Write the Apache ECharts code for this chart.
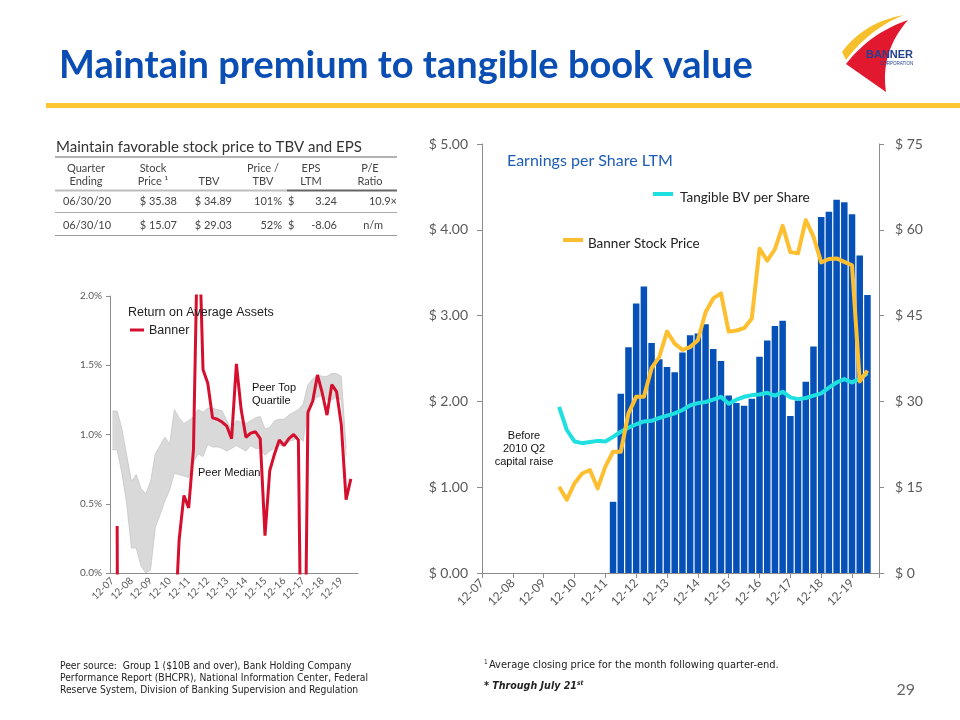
<!DOCTYPE html>
<html>
<head>
<meta charset="utf-8">
<script src="https://cdn.jsdelivr.net/npm/echarts@6/dist/echarts.min.js"></script>
<style>
  html, body { margin: 0; padding: 0; background: #fff; }
  #main { width: 960px; height: 720px; }
</style>
</head>
<body>
<div id="main"></div>
<script>
// quarter ends, 12-07 .. 12-20
const quarters = ('12-07 3-08 6-08 9-08 12-08 3-09 6-09 9-09 12-09 3-10 6-10 9-10 12-10 ' +
  '3-11 6-11 9-11 12-11 3-12 6-12 9-12 12-12 3-13 6-13 9-13 12-13 3-14 6-14 9-14 12-14 ' +
  '3-15 6-15 9-15 12-15 3-16 6-16 9-16 12-16 3-17 6-17 9-17 12-17 3-18 6-18 9-18 12-18 ' +
  '3-19 6-19 9-19 12-19 3-20 6-20 9-20 12-20').split(' ')

// right chart: EPS LTM bars start at 3-12, lines start at 6-10
const epsStart = '3-12'
const epsLtm = [0.83, 2.09, 2.63, 3.14, 3.34, 2.68, 2.49, 2.40, 2.34, 2.57, 2.77, 2.79, 2.90, 2.61, 2.47,
  2.07, 1.98, 1.95, 2.03, 2.52, 2.71, 2.88, 2.94, 1.83, 2.01, 2.23, 2.64, 4.15, 4.21, 4.35, 4.32, 4.18, 3.70, 3.24]
const lineStart = '6-10'
const tbvPerShare = [29.03, 25.0, 23.0, 22.7, 22.9, 23.1, 23.0, 23.8, 24.7, 25.4, 26.0, 26.5, 26.6, 27.1, 27.5,
  27.9, 28.5, 29.3, 29.7, 29.9, 30.3, 30.8, 29.6, 30.3, 30.8, 31.1, 31.2, 31.5, 31.0, 31.7, 30.7, 30.4, 30.6,
  31.0, 31.4, 32.4, 33.3, 33.9, 33.3, 34.0, 34.89]
const stockPrice = [15.07, 12.8, 15.7, 17.4, 18.0, 14.8, 18.6, 21.2, 21.2, 27.9, 30.8, 30.8, 35.8, 37.8, 42.2,
  40.1, 39.0, 39.5, 40.7, 45.6, 48.0, 48.9, 42.2, 42.4, 42.8, 44.5, 56.7, 54.6, 56.6, 60.7, 56.1, 55.9, 61.7,
  58.8, 54.3, 54.9, 55.0, 54.4, 53.8, 33.5, 35.38]

// left chart: return on average assets (%), from 12-07
const roaaQuarters = quarters.slice(0, 52)
const bannerRoaa = [null, 0.34, -9.0, -0.3, -2.4, -0.4, -0.6, -1.9, -1.1, -0.7, -2.6, -0.5, -2.7, -0.47,
  0.24, 0.56, 0.47, 0.89, 2.7, 1.47, 1.37, 1.12, 1.11, 1.09, 1.06, 0.97, 1.51, 1.18, 0.98, 1.01, 1.02, 0.97,
  0.27, 0.74, 0.86, 0.96, 0.92, 0.97, 1.00, 0.96, -2.0, 1.16, 1.24, 1.43, 1.30, 1.14, 1.36, 1.31, 1.07, 0.53, 0.68]
const peerTopQuartile = [1.17, 1.17, 1.04, 0.85, 0.66, 0.71, 0.61, 0.57, 0.66, 0.86, 0.92, 0.98, 0.93, 1.18,
  1.12, 1.08, 1.10, 1.13, 1.18, 1.16, 1.19, 1.19, 1.18, 1.17, 1.10, 1.03, 1.10, 1.09, 1.08, 1.10, 1.12, 1.13,
  1.04, 1.05, 1.10, 1.11, 1.11, 1.14, 1.16, 1.18, 1.22, 1.36, 1.40, 1.43, 1.42, 1.42, 1.44, 1.44, 1.42, 0.90]
const peerMedian = [0.89, 0.89, 0.72, 0.50, 0.18, 0.18, 0.05, 0.00, 0.02, 0.33, 0.42, 0.52, 0.60, 0.72, 0.71,
  0.70, 0.69, 0.80, 0.86, 0.84, 0.93, 0.91, 0.91, 0.90, 0.88, 0.90, 0.92, 0.90, 0.88, 0.92, 0.90, 0.90, 0.85,
  0.88, 0.90, 0.92, 0.92, 0.95, 0.96, 0.99, 0.95, 1.20, 1.24, 1.27, 1.28, 1.25, 1.25, 1.27, 1.25, 0.85]

// summary table
const tableHeader = [['Quarter', 'Ending'], ['Stock', 'Price ¹'], ['', 'TBV'], ['Price /', 'TBV'], ['EPS', 'LTM'], ['P/E', 'Ratio']]
const tableRows = [
  ['06/30/20', '$ 35.38', '$ 34.89', '101%', '3.24', '10.9×'],
  ['06/30/10', '$ 15.07', '$ 29.03', '52%', '-8.06', 'n/m']
]

const BLUE = '#0651b7'
const CYAN = '#1ee0e0'
const ORANGE = '#fdbf2f'
const RED = '#d5102f'
const AXIS = '#8c8c8c'
const LABEL = '#595959'

// pairs [quarter index, value] for the value-type x axis
const toPairs = (start, values) => {
  const s = quarters.indexOf(start)
  return values.map((v, i) => [s + i, v])
}

const bandTop = peerTopQuartile.map((v, i) => +(v - peerMedian[i]).toFixed(3))

// small helpers for the slide furniture
const txt = (x, y, text, font, fill, align, vAlign) => ({
  type: 'text', x: x, y: y, z: 50, silent: true,
  style: { text: text, font: font, fill: fill || '#333', textAlign: align || 'left', textVerticalAlign: vAlign || 'middle' }
})
const rule = (x1, y1, x2, y2, color, w) => ({
  type: 'line', z: 50, silent: true,
  shape: { x1: x1, y1: y1, x2: x2, y2: y2 }, style: { stroke: color, lineWidth: w }
})
const quad = (p0, c, p1) => {
  const pts = []
  for (let k = 0; k <= 16; k++) {
    const t = k / 16
    pts.push([(1 - t) * (1 - t) * p0[0] + 2 * (1 - t) * t * c[0] + t * t * p1[0],
      (1 - t) * (1 - t) * p0[1] + 2 * (1 - t) * t * c[1] + t * t * p1[1]])
  }
  return pts
}

const TF = 'Lato, "Open sans", sans-serif'
const graphics = []

// title + rule
graphics.push(txt(59, 66, 'Maintain premium to tangible book value', 'bold 38px ' + TF, '#0a4db3'))
graphics.push({ type: 'rect', z: 40, silent: true, shape: { x: 46, y: 103, width: 914, height: 5 }, style: { fill: '#fcc531' } })

// logo
graphics.push({ type: 'polygon', z: 41, silent: true,
  shape: { points: quad([842, 52], [864, 22], [904, 15]).concat(quad([904, 15], [869, 29], [846, 60])) },
  style: { fill: '#f6c02c' } })
graphics.push({ type: 'polygon', z: 42, silent: true,
  shape: { points: quad([908, 20], [870, 33], [846, 64]).concat([[886, 92]], quad([886, 92], [880, 52], [908, 20])) },
  style: { fill: '#e2182e' } })
graphics.push(txt(866, 55, 'BANNER', 'bold 11px "Liberation Sans", sans-serif', '#24408f'))
graphics.push(txt(880, 64, 'CORPORATION', '4.5px "Liberation Sans", sans-serif', '#24408f'))

// table
graphics.push(txt(56, 147, 'Maintain favorable stock price to TBV and EPS', '15px ' + TF, '#333'))
graphics.push(rule(55, 157, 397, 157, '#666', 1.2))
const colCenter = [86, 153, 209, 263, 311, 370]
tableHeader.forEach((h, c) => {
  graphics.push(txt(colCenter[c], 168, h[0], '11px ' + TF, '#444', 'center'))
  graphics.push(txt(colCenter[c], 181, h[1], '11px ' + TF, '#444', 'center'))
})
graphics.push(rule(55, 190.5, 287, 190.5, '#bdbdbd', 2))
graphics.push(rule(287, 190.5, 397, 190.5, '#666', 2))
tableRows.forEach((r, j) => {
  const y = 201 + j * 24
  graphics.push(txt(87, y, r[0], '11px ' + TF, '#444', 'center'))
  graphics.push(txt(177, y, r[1], '11px ' + TF, '#444', 'right'))
  graphics.push(txt(232, y, r[2], '11px ' + TF, '#444', 'right'))
  graphics.push(txt(282, y, r[3], '11px ' + TF, '#444', 'right'))
  graphics.push(txt(288, y, '$', '11px ' + TF, '#444', 'left'))
  graphics.push(txt(337, y, r[4], '11px ' + TF, '#444', 'right'))
  graphics.push(txt(r[5] === 'n/m' ? 383 : 397, y, r[5], '11px ' + TF, '#444', 'right'))
})
graphics.push(rule(55, 212.5, 397, 212.5, '#aaa', 1))
graphics.push(rule(55, 235.5, 397, 235.5, '#999', 1.2))

// left chart annotations
const CF = '"Liberation Sans", Arial, sans-serif'
graphics.push(txt(128, 313, 'Return on Average Assets', '12.5px ' + CF, '#222'))
graphics.push(rule(130, 330, 144, 330, RED, 3))
graphics.push(txt(149, 331, 'Banner', '12.5px ' + CF, '#222'))
graphics.push(txt(252, 388, 'Peer Top', '11px ' + CF, '#111'))
graphics.push(txt(252, 401, 'Quartile', '11px ' + CF, '#111'))
graphics.push(txt(198, 473, 'Peer Median', '11px ' + CF, '#111'))

// right chart annotations
graphics.push(txt(507, 161, 'Earnings per Share LTM', '16px ' + TF, '#1f5cb5'))
graphics.push(rule(653, 194, 673, 194, CYAN, 4))
graphics.push(txt(680, 198, 'Tangible BV per Share', '13.5px ' + TF, '#222'))
graphics.push(rule(563, 240, 583, 240, ORANGE, 4))
graphics.push(txt(588, 244, 'Banner Stock Price', '13.5px ' + TF, '#222'))
graphics.push(txt(524, 436, 'Before', '11px ' + CF, '#111', 'center'))
graphics.push(txt(524, 449, '2010 Q2', '11px ' + CF, '#111', 'center'))
graphics.push(txt(524, 462, 'capital raise', '11px ' + CF, '#111', 'center'))

// footer
const NF = '"Liberation Sans Narrow", "DejaVu Sans Condensed", sans-serif'
graphics.push(txt(60, 666, 'Peer source:  Group 1 ($10B and over), Bank Holding Company', '10.25px ' + NF, '#222'))
graphics.push(txt(60, 678, 'Performance Report (BHCPR), National Information Center, Federal', '10.25px ' + NF, '#222'))
graphics.push(txt(60, 690, 'Reserve System, Division of Banking Supervision and Regulation', '10.25px ' + NF, '#222'))
graphics.push(txt(484, 662, '1', '6.5px ' + NF, '#222'))
graphics.push(txt(489, 665, 'Average closing price for the month following quarter-end.', '11px ' + NF, '#222'))
graphics.push({
  type: 'text', x: 484, y: 686, z: 50, silent: true,
  style: {
    text: '{a|* Through July 21}{s|st}', textVerticalAlign: 'middle',
    rich: {
      a: { font: 'italic bold 10.6px ' + NF, fill: '#222' },
      s: { font: 'italic bold 6.5px ' + NF, fill: '#222', padding: [0, 0, 5, 0] }
    }
  }
})
graphics.push(txt(915, 690, '29', '16px ' + TF, '#666', 'right'))

const chart = echarts.init(document.getElementById('main'), null, { renderer: 'canvas' })

chart.setOption({
  backgroundColor: '#fff',
  animation: false,
  grid: [
    { left: 110, top: 296, width: 248, height: 277 },
    { left: 482, top: 144, width: 397, height: 429 }
  ],
  xAxis: [
    {
      type: 'category', gridIndex: 0, data: roaaQuarters, boundaryGap: true,
      axisLine: { lineStyle: { color: AXIS } },
      axisTick: { length: 4, interval: (i) => i % 4 === 0, lineStyle: { color: AXIS } },
      axisLabel: { interval: (i) => i % 4 === 0, rotate: 45, fontSize: 10, color: LABEL, margin: 6, fontFamily: TF }
    },
    {
      type: 'value', gridIndex: 1, min: 0, max: 51.5, interval: 4,
      splitLine: { show: false },
      axisLine: { lineStyle: { color: AXIS } },
      axisTick: { length: 5, lineStyle: { color: AXIS } },
      axisLabel: {
        rotate: 45, fontSize: 12, color: LABEL, margin: 8, fontFamily: TF,
        formatter: (v) => (v % 4 === 0 ? quarters[v] : '')
      }
    }
  ],
  yAxis: [
    {
      type: 'value', gridIndex: 0, min: 0, max: 2, interval: 0.5,
      splitLine: { show: false },
      axisLine: { show: true, lineStyle: { color: AXIS } },
      axisTick: { show: true, length: 4, lineStyle: { color: AXIS } },
      axisLabel: { fontSize: 10, color: LABEL, margin: 8, fontFamily: TF, formatter: (v) => v.toFixed(1) + '%' }
    },
    {
      type: 'value', gridIndex: 1, position: 'left', min: 0, max: 5, interval: 1,
      splitLine: { show: false },
      axisLine: { show: true, lineStyle: { color: AXIS } },
      axisTick: { show: true, length: 5, lineStyle: { color: AXIS } },
      axisLabel: { fontSize: 14, color: LABEL, margin: 14, fontFamily: TF, formatter: (v) => '$ ' + v.toFixed(2) }
    },
    {
      type: 'value', gridIndex: 1, position: 'right', min: 0, max: 75, interval: 15,
      splitLine: { show: false },
      axisLine: { show: true, lineStyle: { color: AXIS } },
      axisTick: { show: true, length: 5, lineStyle: { color: AXIS } },
      axisLabel: { fontSize: 14, color: LABEL, margin: 16, fontFamily: TF, formatter: (v) => '$ ' + v }
    }
  ],
  series: [
    {
      name: 'Peer Median', type: 'line', xAxisIndex: 0, yAxisIndex: 0, stack: 'band',
      data: peerMedian, symbol: 'none', lineStyle: { color: '#c6c6c6', width: 0.8 }, z: 1
    },
    {
      name: 'Peer Top Quartile', type: 'line', xAxisIndex: 0, yAxisIndex: 0, stack: 'band',
      data: bandTop, symbol: 'none', lineStyle: { color: '#c6c6c6', width: 0.8 },
      areaStyle: { color: '#d9d9d9', opacity: 1 }, z: 1
    },
    {
      name: 'Banner', type: 'line', xAxisIndex: 0, yAxisIndex: 0, data: bannerRoaa,
      symbol: 'none', clip: true, lineStyle: { color: RED, width: 3 }, z: 3
    },
    {
      name: 'EPS LTM', type: 'bar', xAxisIndex: 1, yAxisIndex: 1,
      data: toPairs(epsStart, epsLtm), barWidth: 6.5, itemStyle: { color: BLUE }, z: 2
    },
    {
      name: 'Tangible BV per Share', type: 'line', xAxisIndex: 1, yAxisIndex: 2,
      data: toPairs(lineStart, tbvPerShare), symbol: 'none',
      lineStyle: { color: CYAN, width: 4, join: 'round' }, z: 3
    },
    {
      name: 'Banner Stock Price', type: 'line', xAxisIndex: 1, yAxisIndex: 2,
      data: toPairs(lineStart, stockPrice), symbol: 'none',
      lineStyle: { color: ORANGE, width: 4, join: 'round' }, z: 4
    }
  ],
  graphic: graphics
})
</script>
</body>
</html>
